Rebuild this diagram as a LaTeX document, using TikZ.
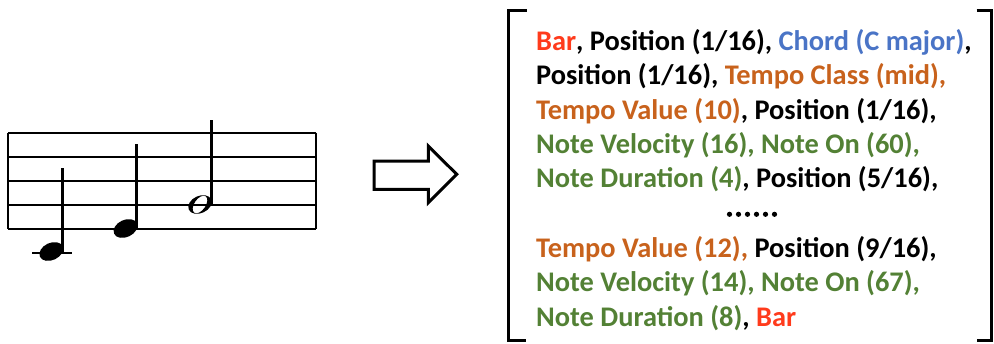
\documentclass[tikz,border=0pt]{standalone}
\usepackage{fontspec}
\setmainfont{Carlito}
\definecolor{tokred}{HTML}{FF3B1C}
\definecolor{tokblue}{HTML}{4A74C6}
\definecolor{tokorange}{HTML}{C8621C}
\definecolor{tokgreen}{HTML}{538135}
\newcommand{\tR}[1]{\textcolor{tokred}{#1}}
\newcommand{\tB}[1]{\textcolor{tokblue}{#1}}
\newcommand{\tO}[1]{\textcolor{tokorange}{#1}}
\newcommand{\tG}[1]{\textcolor{tokgreen}{#1}}
\begin{document}
\begin{tikzpicture}[x=1pt,y=-1pt,
  staffline/.style={line width=2pt},
  stem/.style={line width=2.6pt},
  bracket/.style={line width=3pt},
  tokline/.style={anchor=base west,inner sep=0pt,font=\fontsize{28.4}{32}\selectfont\bfseries},
  bigarrow/.style={line width=3pt,line join=miter}]
\useasboundingbox (0,0) rectangle (994,343);

% staff
\foreach \yy in {132.7,156.8,181,205.2,228.8}
  \draw[staffline] (8,\yy) -- (316,\yy);
\draw[staffline] (8,132.7) -- (8,228.8);
\draw[staffline] (316,132.7) -- (316,228.8);

% note 1 (C, with ledger line)
\draw[staffline] (32,252.5) -- (72,252.5);
\fill[rotate around={25:(51.3,251.5)}] (51.3,251.5) ellipse[x radius=12.5,y radius=8.6];
\draw[stem] (62.4,252) -- (62.4,168);
% note 2 (E)
\fill[rotate around={25:(125.5,228.5)}] (125.5,228.5) ellipse[x radius=12.5,y radius=8.6];
\draw[stem] (136.6,229) -- (136.6,143.5);
% note 3 (G, half note)
\fill[even odd rule] [rotate around={25:(200,204.5)}] (200,204.5) ellipse[x radius=12.3,y radius=8.6]
  [rotate around={30:(200,204.5)}] (200,204.5) ellipse[x radius=10,y radius=5.6];
\draw[stem] (211.4,205) -- (211.4,120);

% conversion arrow
\draw[bigarrow] (374,161) -- (428.3,161) -- (428.3,146) -- (456.7,174.3)
  -- (428.3,202.7) -- (428.3,189.3) -- (374,189.3) -- cycle;

% brackets
\draw[bracket] (526.5,10.5) -- (508.5,10.5) -- (508.5,340.5) -- (525.5,340.5);
\draw[bracket] (976.5,10.5) -- (991.5,10.5) -- (991.5,340.5) -- (976.5,340.5);

% token sequence
\node[tokline] (l1) at (536,50.5) {\tR{Bar}, Position (1/16), \tB{Chord (C major)},};
\node[tokline] (l2) at (536,84.8) {Position (1/16), \tO{Tempo Class (mid),}};
\node[tokline] (l3) at (536,119.1) {\tO{Tempo Value (10)}, Position (1/16),};
\node[tokline] (l4) at (536,153.4) {\tG{Note Velocity (16), Note On (60),}};
\node[tokline] (l5) at (536,187.7) {\tG{Note Duration (4)}, Position (5/16),};
\node (dots) at (751.5,214.3) {};
\foreach \i in {0,...,5}
  \fill (729.5+\i*9,214.3) circle[radius=2.6];
\node[tokline] (l7) at (536,257.6) {\tO{Tempo Value (12),} Position (9/16),};
\node[tokline] (l8) at (536,291.9) {\tG{Note Velocity (14), Note On (67),}};
\node[tokline] (l9) at (536,326.2) {\tG{Note Duration (8)}, \tR{Bar}};
\end{tikzpicture}
\end{document}
